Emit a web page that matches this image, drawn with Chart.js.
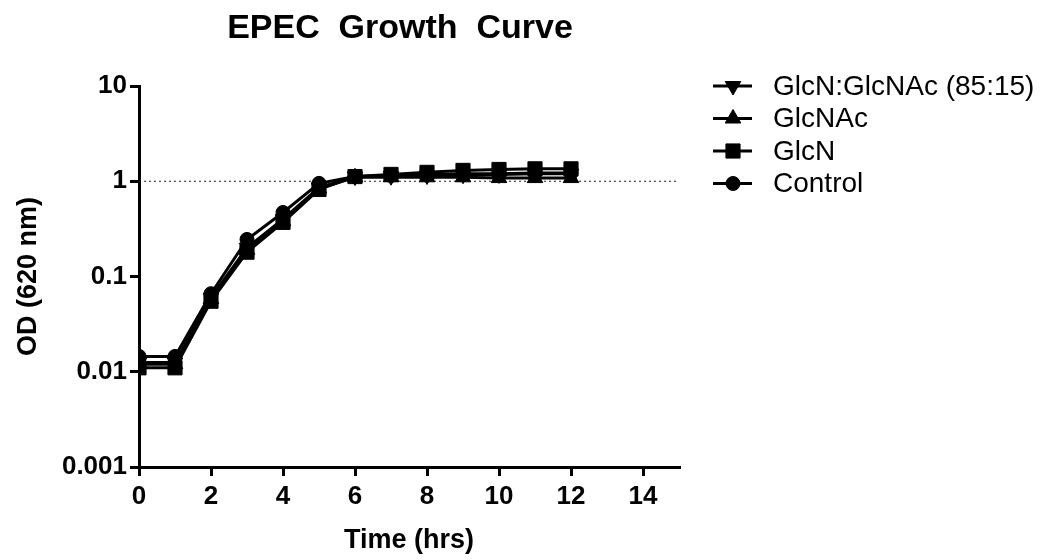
<!DOCTYPE html>
<html>
<head>
<meta charset="utf-8">
<script src="https://cdn.jsdelivr.net/npm/chart.js@4.4.1/dist/chart.umd.min.js"></script>
<style>
  html, body { margin: 0; padding: 0; background: #fff; }
  #wrap { width: 1049px; height: 560px; }
</style>
</head>
<body>
<div id="wrap"><canvas id="growth-chart" width="1049" height="560"></canvas></div>
<script>
// time points (hrs)
const hours = [0, 1, 2, 3, 4, 5, 6, 7, 8, 9, 10, 11, 12];

// OD 620 nm
const mixValues    = [0.0125, 0.0125, 0.060, 0.20, 0.40, 0.86, 1.12, 1.13, 1.15, 1.17, 1.18, 1.20, 1.20];
const glcnacValues = [0.0120, 0.0120, 0.058, 0.19, 0.38, 0.84, 1.10, 1.10, 1.10, 1.10, 1.08, 1.08, 1.08];
const glcnValues   = [0.0110, 0.0110, 0.055, 0.18, 0.37, 0.82, 1.12, 1.18, 1.24, 1.30, 1.33, 1.35, 1.35];
const controlValues = [0.0145, 0.0145, 0.066, 0.245, 0.47, 0.95, 1.12, 1.15, 1.17, 1.20, 1.20, 1.22, 1.22];

const seriesNames = ['GlcN:GlcNAc (85:15)', 'GlcNAc', 'GlcN', 'Control'];
const chartTitle = 'EPEC  Growth  Curve';

const xTicks = [0, 2, 4, 6, 8, 10, 12, 14];
const yTicks = [0.001, 0.01, 0.1, 1, 10];
const yTickLabels = ['0.001', '0.01', '0.1', '1', '10'];

// dotted reference line at OD = 1
const refLine = [{ x: 0, y: 1 }, { x: 15, y: 1 }];

const FONT = "'Liberation Sans', Arial, sans-serif";

function toPoints(values) {
    return values.map((v, i) => ({ x: hours[i], y: v }));
}

function series(label, values, style, radius, rotation) {
    return {
        label: label,
        data: toPoints(values),
        borderColor: '#000',
        backgroundColor: '#000',
        borderWidth: 3,
        pointStyle: style,
        pointRadius: radius,
        pointRotation: rotation || 0,
        pointBorderWidth: 1,
        pointBackgroundColor: '#000',
        pointBorderColor: '#000',
        tension: 0
    };
}

// title + legend drawn by hand so they sit where the original has them
const sideLegend = {
    id: 'sideLegend',
    afterDraw(chart) {
        const ctx = chart.ctx;
        const rows = [86, 118.5, 151, 183.5];
        ctx.save();
        ctx.fillStyle = '#000';
        ctx.font = 'bold 34px ' + FONT;
        ctx.textAlign = 'center';
        ctx.textBaseline = 'middle';
        ctx.fillText(chartTitle, 400, 29);

        chart.data.datasets.forEach((ds, i) => {
            if (ds.hideInLegend) return;
            const y = rows[i];
            ctx.strokeStyle = '#000';
            ctx.lineWidth = 3;
            ctx.beginPath();
            ctx.moveTo(713, y);
            ctx.lineTo(752, y);
            ctx.stroke();
            ctx.fillStyle = '#000';
            ctx.lineWidth = 1;
            Chart.helpers.drawPoint(ctx, {
                pointStyle: ds.pointStyle,
                rotation: ds.pointRotation,
                radius: ds.pointRadius,
                borderWidth: 1
            }, 733, y);
            ctx.font = '28px ' + FONT;
            ctx.textBaseline = 'middle';
            ctx.textAlign = 'left';
            ctx.fillText(ds.label, 773, y + 1);
        });
        ctx.restore();
    }
};

function init() {
    const ctx = document.getElementById('growth-chart').getContext('2d');
    const datasets = [
        series(seriesNames[0], mixValues, 'triangle', 9, 180),
        series(seriesNames[1], glcnacValues, 'triangle', 9, 0),
        series(seriesNames[2], glcnValues, 'rect', 10, 0),
        series(seriesNames[3], controlValues, 'circle', 7, 0),
        {
            label: 'ref',
            hideInLegend: true,
            data: refLine,
            borderColor: '#222',
            borderWidth: 1,
            borderDash: [2, 3],
            pointRadius: 0
        }
    ];

    window.growthChart = new Chart(ctx, {
        type: 'line',
        data: { datasets: datasets },
        plugins: [sideLegend],
        options: {
            responsive: false,
            animation: false,
            events: [],
            layout: { padding: { left: 0, right: 370, top: 86, bottom: 0 } },
            plugins: {
                legend: { display: false },
                tooltip: { enabled: false },
                title: { display: false }
            },
            scales: {
                x: {
                    type: 'linear',
                    min: 0,
                    max: 15,
                    afterBuildTicks: (scale) => { scale.ticks = xTicks.map(v => ({ value: v })); },
                    afterFit: (scale) => { scale.height = 93; },
                    border: { display: true, color: '#000', width: 3 },
                    grid: { display: true, drawOnChartArea: false, drawTicks: true, tickLength: 9, color: '#000', lineWidth: 3 },
                    ticks: {
                        color: '#000',
                        padding: 5,
                        maxRotation: 0,
                        font: { family: FONT, size: 26, weight: 'bold', lineHeight: 1.2 }
                    },
                    title: {
                        display: true,
                        text: 'Time (hrs)',
                        color: '#000',
                        font: { family: FONT, size: 27, weight: 'bold', lineHeight: 1.2 },
                        padding: { top: 0, bottom: 3 }
                    }
                },
                y: {
                    type: 'logarithmic',
                    min: 0.001,
                    max: 10,
                    afterBuildTicks: (scale) => { scale.ticks = yTicks.map(v => ({ value: v })); },
                    afterFit: (scale) => { scale.width = 139; },
                    border: { display: true, color: '#000', width: 3 },
                    grid: { display: true, drawOnChartArea: false, drawTicks: true, tickLength: 9, color: '#000', lineWidth: 3 },
                    ticks: {
                        color: '#000',
                        padding: 3,
                        font: { family: FONT, size: 26, weight: 'bold' },
                        callback: (value, index) => yTickLabels[index]
                    },
                    title: {
                        display: true,
                        text: 'OD (620 nm)',
                        color: '#000',
                        font: { family: FONT, size: 27, weight: 'bold', lineHeight: 1.2 },
                        padding: { top: 12, bottom: 0 }
                    }
                }
            }
        }
    });
}

document.addEventListener('DOMContentLoaded', init);
</script>
</body>
</html>
